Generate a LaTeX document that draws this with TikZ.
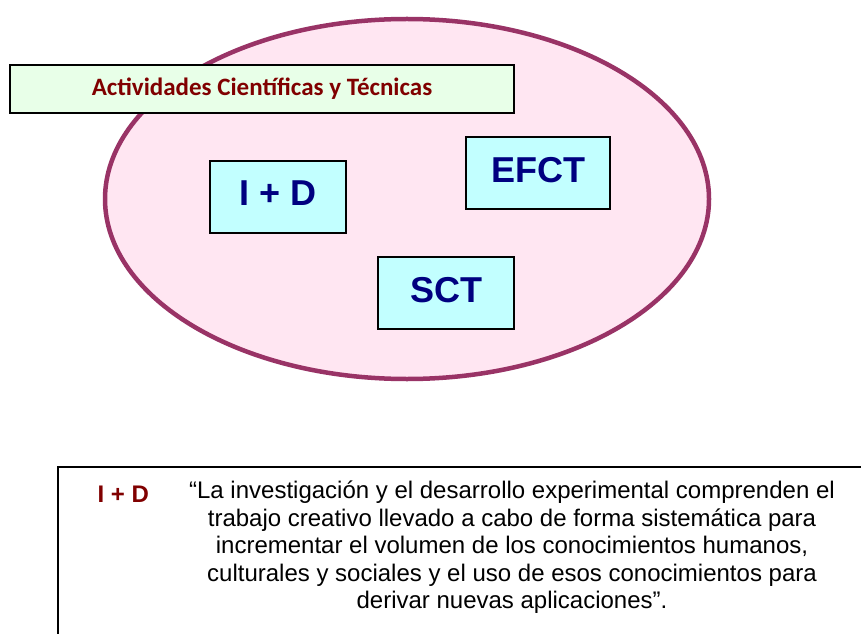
\documentclass[tikz,border=0pt]{standalone}
\usepackage{fontspec}
\setmainfont{Liberation Sans}
\newfontfamily\calibri{Carlito}
\usepackage{tikz}
\usetikzlibrary{positioning,shapes.geometric}

\definecolor{plum}{HTML}{993366}
\definecolor{pinkfill}{HTML}{FFE6F2}
\definecolor{mintfill}{HTML}{E8FFE8}
\definecolor{cyanfill}{HTML}{C2FFFF}
\definecolor{navytext}{HTML}{000080}
\definecolor{darkred}{HTML}{800000}

\begin{document}
\begin{tikzpicture}[x=1pt,y=1pt,
		actbox/.style={draw=black,line width=1.5pt,fill=cyanfill,text=navytext,
			font=\fontsize{36}{40}\selectfont\bfseries,minimum height=72pt,inner sep=0pt,text depth=7pt},
		titlebox/.style={draw=black,line width=1.5pt,fill=mintfill,text=darkred,
			font=\calibri\fontsize{25}{28}\selectfont\bfseries,minimum width=504pt,minimum height=48pt},
		defbox/.style={draw=black,line width=1.2pt}]
		\useasboundingbox (0,0) rectangle (861,633);
		
		% set of activities
		\node[ellipse,draw=plum,line width=4.5pt,fill=pinkfill,minimum width=604pt,
			minimum height=360pt,inner sep=0pt] (set) at (407,434) {};
		\node[titlebox] (title) at (262,544) {Actividades Científicas y Técnicas};
		
		\node[actbox,minimum width=136pt] (ID)   at (278,436) {I + D};
		\node[actbox,minimum width=144pt] (EFCT) at (538,460) {EFCT};
		\node[actbox,minimum width=136pt] (SCT)  at (446,340) {SCT};
		
		% definition
		\draw[defbox] (58,-10) rectangle (875,166);
		\node[text=darkred,font=\fontsize{24}{26}\selectfont\bfseries,anchor=base west]
			(lbl) at (94,131) {I + D};
		\node[align=center,font=\fontsize{24}{27.5}\selectfont,anchor=north,inner sep=0pt]
			(def) at (512,152) {“La investigación y el desarrollo experimental comprenden el\\
			trabajo creativo llevado a cabo de forma sistemática para\\
			incrementar el volumen de los conocimientos humanos,\\
			culturales y sociales y el uso de esos conocimientos para\\
			derivar nuevas aplicaciones”.};
		
\end{tikzpicture}
\end{document}
